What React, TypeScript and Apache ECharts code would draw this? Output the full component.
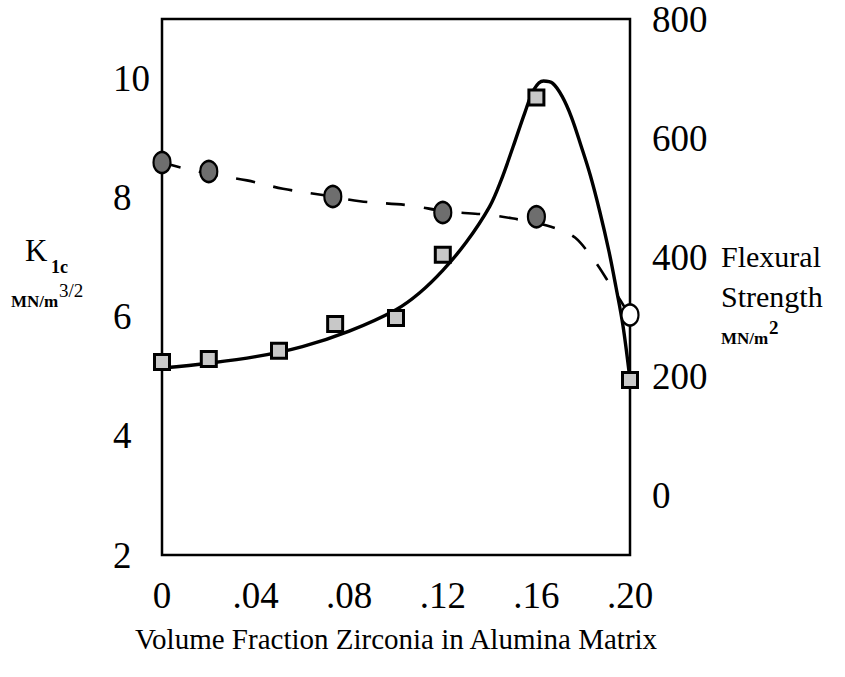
import React, { useEffect, useRef } from "react";
import * as echarts from "echarts";

// Measured points: K1c (squares, left axis)
const kicX = [0, 0.02, 0.05, 0.074, 0.1, 0.12, 0.16, 0.2];
const kicVals = [5.24, 5.29, 5.43, 5.88, 5.98, 7.04, 9.68, 4.94];

// Measured points: flexural strength (circles, right axis)
const strengthX = [0, 0.02, 0.073, 0.12, 0.16, 0.2];
const strengthVals = [559, 544, 502, 475, 468, 303];

// Hand-drawn solid curve through K1c
const kicCurveX = [0, 0.02, 0.04, 0.06, 0.08, 0.1, 0.11, 0.12, 0.13, 0.14, 0.145, 0.15, 0.155, 0.159, 0.163, 0.167, 0.171, 0.175, 0.179, 0.183, 0.187, 0.191, 0.194, 0.197, 0.2];
const kicCurveVals = [5.14, 5.22, 5.33, 5.5, 5.76, 6.12, 6.4, 6.78, 7.25, 7.85, 8.3, 8.85, 9.42, 9.82, 9.96, 9.92, 9.7, 9.35, 8.88, 8.38, 7.78, 7.1, 6.5, 5.85, 4.94];

// Hand-drawn dashed curve through strength
const strengthCurveX = [0, 0.0098, 0.02, 0.0363, 0.0517, 0.0726, 0.0846, 0.106, 0.121, 0.14, 0.153, 0.16, 0.17, 0.1765, 0.183, 0.187, 0.191, 0.1944, 0.1979, 0.2];
const strengthCurveVals = [559, 549, 540, 529, 515, 502, 494, 487, 477, 471, 463, 458, 446, 433, 404, 382, 357, 337, 315, 303];

const xAxisTitle = "Volume Fraction Zirconia in Alumina Matrix";
const leftTicks = [2, 4, 6, 8, 10];
const rightTicks = [0, 200, 400, 600, 800];

const FONT = "Liberation Serif, Times New Roman, serif";

function pairs(xs: number[], ys: number[]) {
  return xs.map((x, i) => [x, ys[i]]);
}

export default function App() {
  const ref = useRef<HTMLDivElement>(null);
  useEffect(() => {
    if (!ref.current) return;
    const chart = echarts.init(ref.current, null, { renderer: "svg" });
    chart.setOption({
      animation: false,
      backgroundColor: "#ffffff",
      grid: {
        left: 162,
        right: 215,
        top: 19,
        bottom: 122,
        show: true,
        borderColor: "#000",
        borderWidth: 2.5,
        backgroundColor: "transparent",
      },
      xAxis: {
        type: "value",
        min: 0,
        max: 0.2,
        interval: 0.04,
        axisLine: { show: false },
        axisTick: { show: false },
        splitLine: { show: false },
        axisLabel: {
          color: "#000",
          fontFamily: FONT,
          fontSize: 37,
          margin: 22,
          formatter: (v: number) =>
            v === 0 ? "0" : "." + String(Math.round(v * 100)).padStart(2, "0"),
        },
        name: xAxisTitle,
        nameLocation: "middle",
        nameGap: 69,
        nameTextStyle: { color: "#000", fontFamily: FONT, fontSize: 29 },
      },
      yAxis: [
        {
          type: "value",
          min: 2,
          max: 11,
          interval: 1,
          position: "left",
          axisLine: { show: false },
          axisTick: { show: false },
          splitLine: { show: false },
          axisLabel: {
            color: "#000",
            fontFamily: FONT,
            fontSize: 37,
            align: "left",
            margin: 49,
            formatter: (v: number) => (leftTicks.includes(v) ? String(v) : ""),
          },
        },
        {
          type: "value",
          min: -100,
          max: 800,
          interval: 100,
          position: "right",
          axisLine: { show: false },
          axisTick: { show: false },
          splitLine: { show: false },
          axisLabel: {
            color: "#000",
            fontFamily: FONT,
            fontSize: 37,
            margin: 22,
            formatter: (v: number) => (rightTicks.includes(v) ? String(v) : ""),
          },
        },
      ],
      series: [
        {
          type: "line",
          name: "K1c curve",
          yAxisIndex: 0,
          data: pairs(kicCurveX, kicCurveVals),
          smooth: 0.35,
          showSymbol: false,
          lineStyle: { color: "#000", width: 3.4 },
          z: 2,
        },
        {
          type: "line",
          name: "Strength curve",
          yAxisIndex: 1,
          data: pairs(strengthCurveX, strengthCurveVals),
          smooth: 0.35,
          showSymbol: false,
          lineStyle: { color: "#000", width: 2.6, type: [19, 19] },
          z: 2,
        },
        {
          type: "scatter",
          name: "K1c",
          yAxisIndex: 0,
          data: pairs(kicX, kicVals),
          symbol: "rect",
          symbolSize: 15,
          itemStyle: { color: "#c8c8c8", borderColor: "#000", borderWidth: 3, opacity: 1 },
          z: 3,
        },
        {
          type: "scatter",
          name: "Flexural Strength",
          yAxisIndex: 1,
          data: pairs(strengthX, strengthVals),
          symbol: "circle",
          symbolSize: [17, 21],
          itemStyle: {
            color: (p: any) => (p.dataIndex === strengthX.length - 1 ? "#ffffff" : "#6e6e6e"),
            borderColor: "#000",
            borderWidth: 2.4,
            opacity: 1,
          },
          z: 3,
        },
      ],
      graphic: [
        { type: "text", left: 25, top: 235, style: { text: "K", font: `31px ${FONT}`, fill: "#000" } },
        { type: "text", left: 51, top: 258, style: { text: "1c", font: `bold 18px ${FONT}`, fill: "#000" } },
        { type: "text", left: 11, top: 293, style: { text: "MN/m", font: `bold 17px ${FONT}`, fill: "#000" } },
        { type: "text", left: 59, top: 281, style: { text: "3/2", font: `19px ${FONT}`, fill: "#000" } },
        { type: "text", left: 721, top: 241, style: { text: "Flexural", font: `30px ${FONT}`, fill: "#000" } },
        { type: "text", left: 721, top: 281, style: { text: "Strength", font: `30px ${FONT}`, fill: "#000" } },
        { type: "text", left: 721, top: 330, style: { text: "MN/m", font: `bold 17px ${FONT}`, fill: "#000" } },
        { type: "text", left: 769, top: 318, style: { text: "2", font: `bold 19px ${FONT}`, fill: "#000" } },
      ],
    });
    return () => chart.dispose();
  }, []);
  return (
    <div
      ref={ref}
      style={{ position: "fixed", left: 0, top: 0, width: 845, height: 677, background: "#fff" }}
    />
  );
}
